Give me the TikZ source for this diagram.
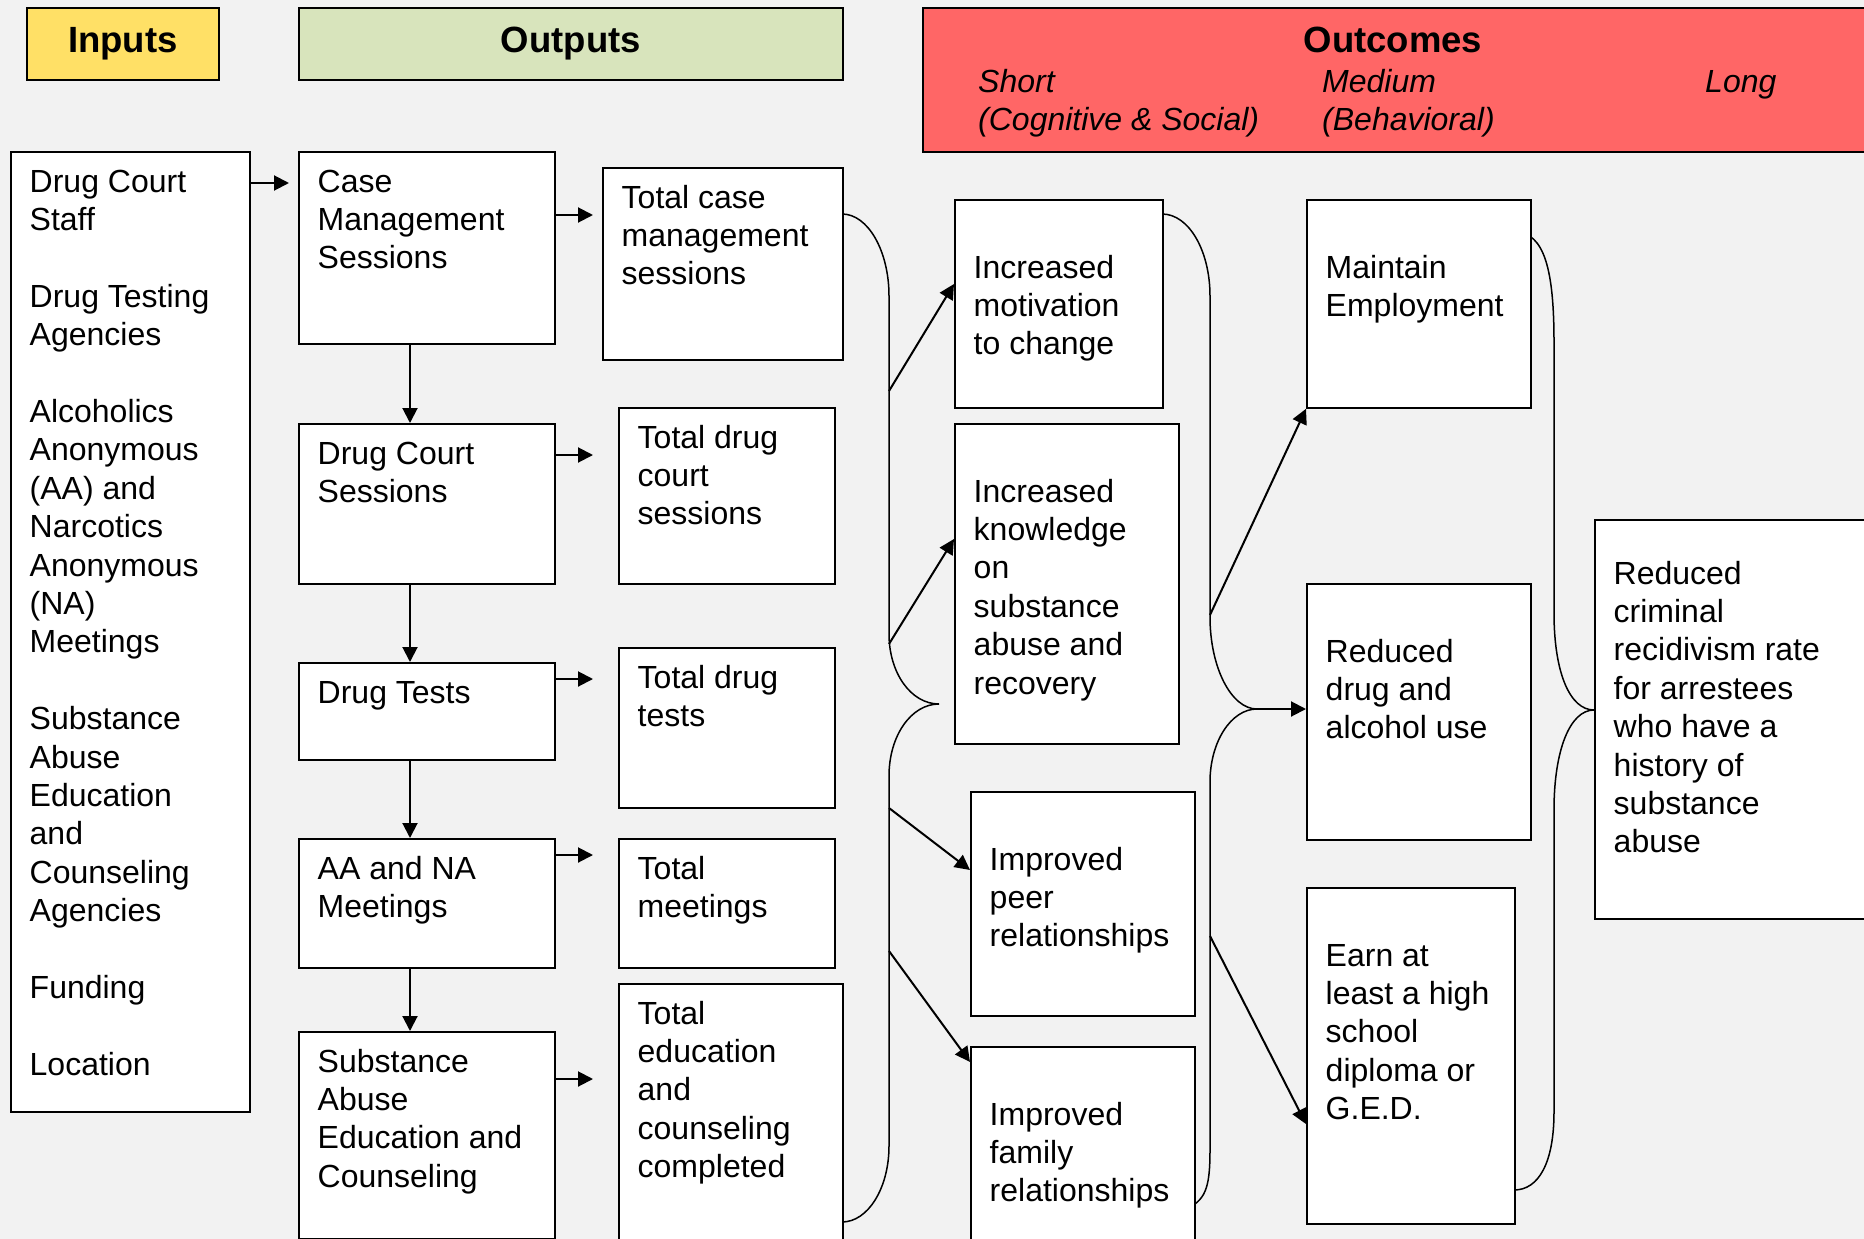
\documentclass[tikz,border=0pt]{standalone}
\usepackage{fontspec}
\setmainfont{Liberation Sans}
\usetikzlibrary{arrows.meta,calc,positioning}
\definecolor{bg}{HTML}{F2F2F2}
\definecolor{inyellow}{HTML}{FFE066}
\definecolor{outgreen}{HTML}{D8E4BC}
\definecolor{ocred}{HTML}{FF6666}
\newcommand{\bodyfont}{\fontsize{32}{38.4}\selectfont}
\newcommand{\headfont}{\fontsize{36.5}{44}\selectfont\bfseries}
\tikzset{
    >={Triangle[length=15pt,width=15pt]},
    blk/.style={
           rectangle,
           draw=black, line width=1.8pt,
           fill=white,
           anchor=north west,
           inner sep=0pt},
    hdr/.style={
           blk,
           font=\headfont},
    txt/.style={
           anchor=north west,
           align=left,
           inner sep=0pt,
           font=\bodyfont,
           xshift=19.5pt, yshift=-14pt},
    txtlow/.style={txt, yshift=-38pt},
    txtmid/.style={txt, yshift=-24pt},
    sub/.style={
           anchor=north west,
           align=left,
           inner sep=0pt,
           font=\bodyfont\itshape},
    pil/.style={
           ->,
           line width=2pt},
    brc/.style={
           line width=1.5pt}
}
\begin{document}
\begin{tikzpicture}[x=1pt, y=-1pt]
    \useasboundingbox (0,0) rectangle (1864,1239);
    \fill[bg] (0,0) rectangle (1864,1239);
    \clip (0,0) rectangle (1864,1239);

    % braces (drawn first, box edges cover their ends)
    \draw[brc] (842,214) .. controls +(26,0) and +(0,-45) .. (889,296)
        -- (889,634) .. controls +(0,39) and +(-28,0) .. (939,704)
        .. controls +(-28,0) and +(0,-40) .. (889,776)
        -- (889,1146) .. controls +(0,42) and +(26,0) .. (842,1222);
    \draw[brc] (1162,214) .. controls +(27,0) and +(0,-45) .. (1210,296)
        -- (1210,617) .. controls +(0,50) and +(-26,0) .. (1257,709)
        .. controls +(-26,0) and +(0,-40) .. (1210,782)
        -- (1210,1150) .. controls +(0,40) and +(20,-10) .. (1185,1210);
    \draw[brc] (1515,232) .. controls +(30,0) and +(0,-70) .. (1554,342)
        -- (1554,613) .. controls +(0,60) and +(-24,0) .. (1594,710)
        .. controls +(-24,0) and +(0,-60) .. (1554,810)
        -- (1554,1112) .. controls +(0,50) and +(25,0) .. (1514,1190);

    % headers
    \node[hdr, fill=inyellow, minimum width=192, minimum height=72] (hin) at (26,7) {Inputs};
    \node[hdr, fill=outgreen, minimum width=544, minimum height=72] (hout) at (298,7) {Outputs};
    \node[blk, fill=ocred, minimum width=950, minimum height=144] (hoc) at (922,7) {};
    \node[font=\headfont, anchor=base, inner sep=0pt] (hoct) at (1393,53) {Outcomes};
    \node[sub] (short) at (978,65) {\strut Short\\(Cognitive \& Social)};
    \node[sub] (medium) at (1322,65) {\strut Medium\\(Behavioral)};
    \node[sub] (long) at (1705,65) {\strut Long};

    % inputs
    \node[blk, minimum width=239, minimum height=960] (inp) at (10,151) {};
    \node[txt] (inpt) at (inp.north west) {\strut Drug Court\\Staff\\[38.4pt]Drug Testing\\Agencies\\[38.4pt]Alcoholics\\Anonymous\\(AA) and\\Narcotics\\Anonymous\\(NA)\\Meetings\\[38.4pt]Substance\\Abuse\\Education\\and\\Counseling\\Agencies\\[38.4pt]Funding\\[38.4pt]Location};

    % outputs: activities
    \node[blk, minimum width=256, minimum height=192] (cm) at (298,151) {};
    \node[txt] (cmt) at (cm.north west) {\strut Case\\Management\\Sessions};
    \node[blk, minimum width=256, minimum height=160] (dc) at (298,423) {};
    \node[txt] (dct) at (dc.north west) {\strut Drug Court\\Sessions};
    \node[blk, minimum width=256, minimum height=97] (dt) at (298,662) {};
    \node[txt] (dtt) at (dt.north west) {\strut Drug Tests};
    \node[blk, minimum width=256, minimum height=129] (aa) at (298,838) {};
    \node[txt] (aat) at (aa.north west) {\strut AA and NA\\Meetings};
    \node[blk, minimum width=256, minimum height=207] (sa) at (298,1031) {};
    \node[txt] (sat) at (sa.north west) {\strut Substance\\Abuse\\Education and\\Counseling};

    % outputs: totals
    \node[blk, minimum width=240, minimum height=192] (tcm) at (602,167) {};
    \node[txt] (tcmt) at (tcm.north west) {\strut Total case\\management\\sessions};
    \node[blk, minimum width=216, minimum height=176] (tdc) at (618,407) {};
    \node[txt] (tdct) at (tdc.north west) {\strut Total drug\\court\\sessions};
    \node[blk, minimum width=216, minimum height=160] (tdt) at (618,647) {};
    \node[txt] (tdtt) at (tdt.north west) {\strut Total drug\\tests};
    \node[blk, minimum width=216, minimum height=129] (tm) at (618,838) {};
    \node[txt] (tmt) at (tm.north west) {\strut Total\\meetings};
    \node[blk, minimum width=224, minimum height=256] (tec) at (618,983) {};
    \node[txt] (tect) at (tec.north west) {\strut Total\\education\\and\\counseling\\completed};

    % short outcomes
    \node[blk, minimum width=208, minimum height=208] (mot) at (954,199) {};
    \node[txtlow] (mott) at (mot.north west) {\strut Increased\\motivation\\to change};
    \node[blk, minimum width=224, minimum height=320] (kno) at (954,423) {};
    \node[txtlow] (knot) at (kno.north west) {\strut Increased\\knowledge\\on\\substance\\abuse and\\recovery};
    \node[blk, minimum width=224, minimum height=224] (peer) at (970,791) {};
    \node[txtlow] (peert) at (peer.north west) {\strut Improved\\peer\\relationships};
    \node[blk, minimum width=224, minimum height=194] (fam) at (970,1046) {};
    \node[txtlow] (famt) at (fam.north west) {\strut Improved\\family\\relationships};

    % medium outcomes
    \node[blk, minimum width=224, minimum height=208] (mai) at (1306,199) {};
    \node[txtlow] (mait) at (mai.north west) {\strut Maintain\\Employment};
    \node[blk, minimum width=224, minimum height=256] (red) at (1306,583) {};
    \node[txtlow] (redt) at (red.north west) {\strut Reduced\\drug and\\alcohol use};
    \node[blk, minimum width=208, minimum height=336] (earn) at (1306,887) {};
    \node[txtlow] (earnt) at (earn.north west) {\strut Earn at\\least a high\\school\\diploma or\\G.E.D.};

    % long outcome
    \node[blk, minimum width=300, minimum height=399] (rec) at (1594,519) {};
    \node[txtmid] (rect) at (rec.north west) {\strut Reduced\\criminal\\recidivism rate\\for arrestees\\who have a\\history of\\substance\\abuse};

    % arrows
    \draw[pil, shorten >=9pt] ([yshift=-32pt]inp.north east) coordinate (inp-o) -- (inp-o -| cm.west);
    \foreach \s/\t/\dy/\gap in {cm/tcm/64/9, dc/tdc/32/25, dt/tdt/17/25, aa/tm/17/25, sa/tec/48/25}
        \draw[pil, shorten >=\gap pt] ([yshift=-\dy pt]\s.north east) coordinate (\s-o) -- (\s-o -| \t.west);
    \foreach \s/\t in {cm/dc, dc/dt, dt/aa, aa/sa}
        \draw[pil] ([xshift=112pt]\s.south west) coordinate (\s-d) -- (\s-d |- \t.north);

    \coordinate (b1a) at (889,391);
    \coordinate (b1b) at (889,644);
    \coordinate (b1c) at (889,808);
    \coordinate (b1d) at (889,951);
    \coordinate (b2a) at (1210,615);
    \coordinate (b2t) at (1257,709);
    \coordinate (b2b) at (1210,936);
    \draw[pil] (b1a) -- ([yshift=-85pt]mot.north west);
    \draw[pil] (b1b) -- ([yshift=-116pt]kno.north west);
    \draw[pil] (b1c) -- ([yshift=-79pt]peer.north west);
    \draw[pil] (b1d) -- ([yshift=-16pt]fam.north west);
    \draw[pil] (b2a) -- (mai.south west);
    \draw[pil] (b2t) -- (b2t -| red.west);
    \draw[pil] (b2b) -- ([yshift=-237pt]earn.north west);
\end{tikzpicture}
\end{document}
